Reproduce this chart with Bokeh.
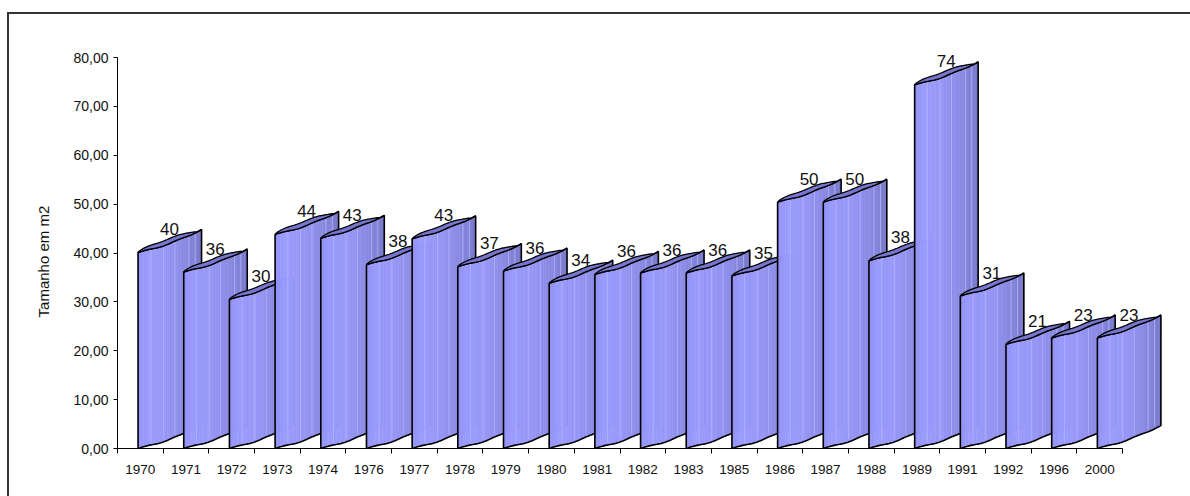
import numpy as np
from bokeh.plotting import figure
from bokeh.models import FixedTicker, Range1d, ColumnDataSource
from bokeh.core.properties import value
from bokeh.embed import file_html
from bokeh.resources import INLINE

# ---------------- data ----------------
years = ["1970", "1971", "1972", "1973", "1974", "1976", "1977", "1978", "1979", "1980",
         "1981", "1982", "1983", "1985", "1986", "1987", "1988", "1989", "1991", "1992",
         "1996", "2000"]
sizes = [40.1, 36.1, 30.5, 43.8, 43.0, 37.6, 42.9, 37.2, 36.3, 33.8,
         35.6, 35.9, 35.9, 35.3, 50.4, 50.4, 38.4, 74.4, 31.2, 21.3,
         22.6, 22.6]
y_ticks = [0, 10, 20, 30, 40, 50, 60, 70, 80]
y_tick_labels = ["0,00", "10,00", "20,00", "30,00", "40,00", "50,00", "60,00", "70,00", "80,00"]
y_title = "Tamanho em m2"

# ---------------- layout ----------------
W, H = 1190, 496
LEFT, RIGHT, TOP, BOTTOM = 117, 15, 20, 48
FW, FH = W - LEFT - RIGHT, H - TOP - BOTTOM
PX_X = 1005 / len(years)      # pixels per category
PX_Y = 391 / 80.0             # pixels per m2

p = figure(width=W, height=H, output_backend="svg", toolbar_location=None,
           x_range=Range1d(-0.5, -0.5 + FW / PX_X), y_range=Range1d(0, FH / PX_Y),
           min_border_left=LEFT, min_border_right=RIGHT,
           min_border_top=TOP, min_border_bottom=BOTTOM)
p.outline_line_color = None
p.xgrid.visible = False
p.ygrid.visible = False
p.background_fill_color = "white"
p.border_fill_color = None
# chart-area border (left and top edges visible inside the window)
p.styles = {
    "background-color": "white",
    "background-image": "linear-gradient(#333333, #333333), linear-gradient(#333333, #333333)",
    "background-position": "7px 12px, 7px 12px",
    "background-size": "2px 600px, 1300px 2px",
    "background-repeat": "no-repeat",
}

FONT = "Liberation Sans"

# y axis
p.yaxis.ticker = FixedTicker(ticks=y_ticks, minor_ticks=[])
p.yaxis.major_label_overrides = {t: s for t, s in zip(y_ticks, y_tick_labels)}
p.yaxis.bounds = (y_ticks[0], y_ticks[-1])
p.yaxis.major_tick_out = 4
p.yaxis.major_tick_in = 0
p.yaxis.minor_tick_out = 0
p.yaxis.major_label_standoff = 5
p.yaxis.major_label_text_font = FONT
p.yaxis.major_label_text_font_size = "14px"
p.yaxis.major_label_text_color = "#111111"
p.yaxis.axis_line_color = "black"
p.yaxis.major_tick_line_color = "black"
# trailing no-break spaces shift the rotated title down to the plot-area centre
p.yaxis.axis_label = y_title + "\u00a0" * 13
p.yaxis.axis_label_text_font = FONT
p.yaxis.axis_label_text_font_size = "15px"
p.yaxis.axis_label_text_font_style = "normal"
p.yaxis.axis_label_text_color = "#111111"
p.yaxis.axis_label_standoff = 18

# x axis: labels at centres, ticks at category boundaries
n = len(years)
centers = list(range(n))
bounds_ticks = [i - 0.5 for i in range(n + 1)]
p.xaxis.ticker = FixedTicker(ticks=centers, minor_ticks=bounds_ticks)
p.xaxis.major_label_overrides = {i: y for i, y in zip(centers, years)}
p.xaxis.bounds = (-0.5, n - 0.5)
p.xaxis.major_tick_out = 0
p.xaxis.major_tick_in = 0
p.xaxis.minor_tick_out = 5
p.xaxis.minor_tick_in = 0
p.xaxis.minor_tick_line_color = "black"
p.xaxis.axis_line_color = "black"
p.xaxis.major_label_standoff = 11
p.xaxis.major_label_text_font = FONT
p.xaxis.major_label_text_font_size = "13.5px"
p.xaxis.major_label_text_color = "#111111"

# ---------------- 3D sheet bars ----------------
OFF = -0.05                 # left edge relative to category centre
DW = 63.5 / PX_X            # horizontal extent of the slanted sheet
RISE = 23 / PX_Y            # rise of the sheet across its width
LID = 5 / PX_Y              # thickness of the lid

def f(t):
    return t - 0.10 * np.sin(np.pi * t) + 0.02 * np.sin(4 * np.pi * t)

stops_t = [0.0, 0.15, 0.45, 0.75, 1.0]
stops_c = [(0x92, 0x92, 0xF4), (0x9C, 0x9C, 0xFF), (0x96, 0x96, 0xF6), (0x89, 0x89, 0xE2), (0x78, 0x78, 0xCA)]

def shade(t):
    rgb = [int(round(np.interp(t, stops_t, [c[k] for c in stops_c]))) for k in range(3)]
    return "#%02x%02x%02x" % tuple(rgb)

NS = 24
tt = np.linspace(0, 1, NS + 1)
tf = np.linspace(0, 1, 60)
highlights = [0.2, 0.4, 0.58, 0.8, 0.9]

for i, v in enumerate(sizes):
    x0 = i + OFF
    xs, ys, cols = [], [], []
    for k in range(NS):
        a, b = tt[k], tt[k + 1]
        xa, xb = x0 + a * DW, x0 + b * DW
        ba, bb = RISE * f(a), RISE * f(b)
        xs.append([xa, xb, xb, xa])
        ys.append([ba, bb, v + bb, v + ba])
        cols.append(shade((a + b) / 2))
    p.patches(xs, ys, fill_color=cols, line_color=cols, line_width=0.6)

    hx = [[x0 + h * DW, x0 + h * DW] for h in highlights]
    hy = [[RISE * f(h) + 0.5, v + RISE * f(h)] for h in highlights]
    p.multi_line(hx, hy, line_color="#b4b4ff", line_width=1, line_alpha=0.8)

    # front outline
    fx = list(x0 + tf * DW)
    bot = list(RISE * f(tf))
    top = list(v + RISE * f(tf))
    ox = fx + fx[::-1] + [fx[0]]
    oy = bot + top[::-1] + [bot[0]]
    p.line(ox, oy, line_color="black", line_width=1.6)

    # lid
    back = list(v + RISE * f(tf) + LID * np.sin(np.pi * np.clip(tf * 1.08, 0, 1)) ** 0.6)
    lx = fx + fx[::-1]
    ly = top + back[::-1]
    p.patch(lx, ly, fill_color="#7676cf", line_color="black", line_width=1.3)

# value labels
lab_src = ColumnDataSource(dict(
    x=[c + 0.64 for c in centers],
    y=[v + 4.8 for v in sizes],
    t=["%d" % round(v) for v in sizes],
))
p.text(x="x", y="y", text="t", source=lab_src, text_font=value(FONT),
       text_font_size="17px", text_align="center", text_baseline="alphabetic",
       text_color="#111111")

open("out.html", "w").write(file_html(p, INLINE))
